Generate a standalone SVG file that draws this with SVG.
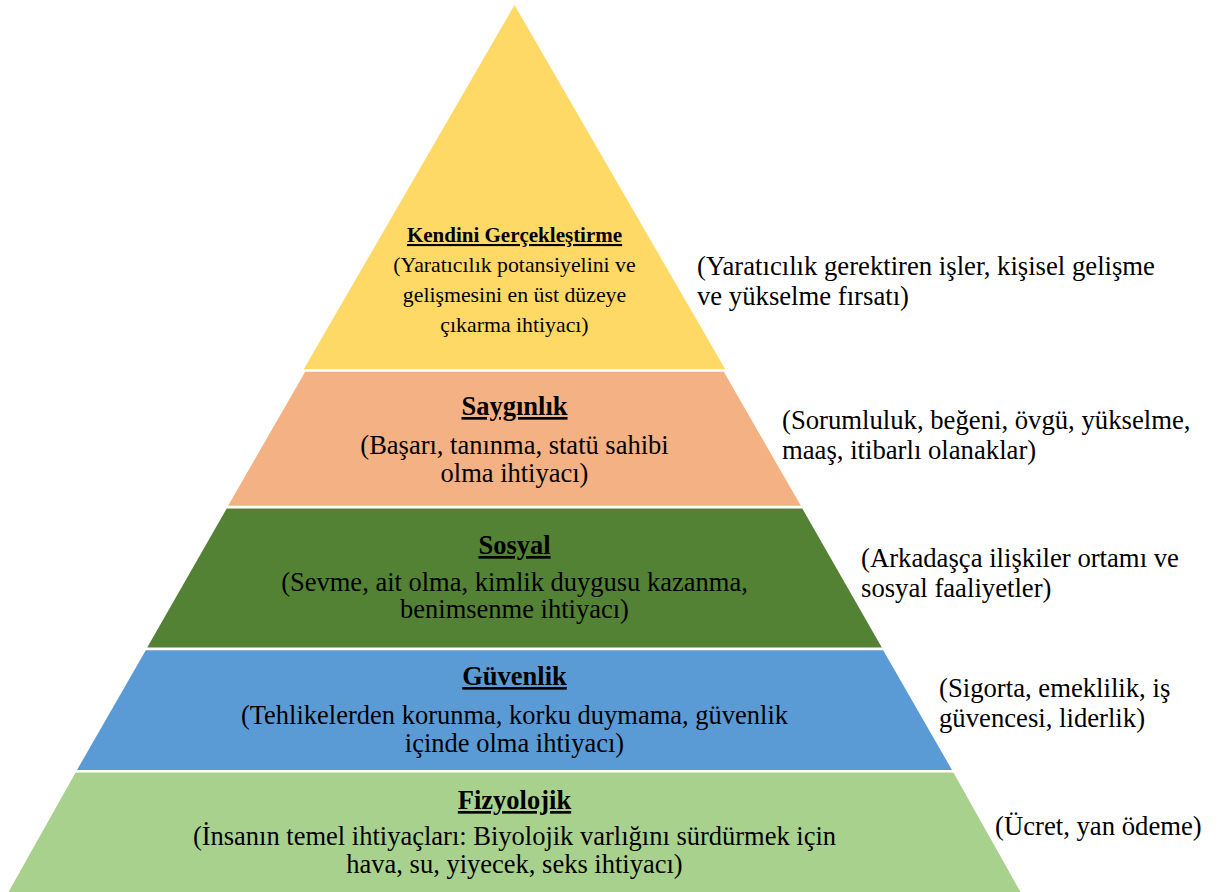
<svg xmlns="http://www.w3.org/2000/svg" width="1219" height="892" viewBox="0 0 1219 892">
<style>
.t{font-size:26.5px;text-anchor:middle}
.h{font-size:26.5px;font-weight:bold;text-decoration:underline;text-anchor:middle}
.h1{font-size:21px;font-weight:bold;text-decoration:underline;text-anchor:middle}
.t1{font-size:21.8px;text-anchor:middle}
.r{font-size:26.7px}
</style>
<rect width="1219" height="892" fill="#fff"/>
<g font-family="Liberation Serif" fill="#000">
<g id="level5">
<polygon points="514.5,5 725.3,369.3 303.7,369.3" fill="#FFD966"/>
<text class="h1" x="514.5" y="242">Kendini Gerçekleştirme</text>
<text class="t1" x="514.5" y="272">(Yaratıcılık potansiyelini ve</text>
<text class="t1" x="514.5" y="302">gelişmesini en üst düzeye</text>
<text class="t1" x="514.5" y="332">çıkarma ihtiyacı)</text>
</g>
<g id="level4">
<polygon points="305.2,371.8 723.8,371.8 800.9,505.8 228.1,505.8" fill="#F4B183"/>
<text class="h" x="514.5" y="415">Saygınlık</text>
<text class="t" x="514.5" y="454">(Başarı, tanınma, statü sahibi</text>
<text class="t" x="514.5" y="481.5">olma ihtiyacı)</text>
</g>
<g id="level3">
<polygon points="226.7,508.4 802.3,508.4 881.8,647.5 147.2,647.5" fill="#548235"/>
<text class="h" x="514.5" y="554">Sosyal</text>
<text class="t" x="514.5" y="590.5">(Sevme, ait olma, kimlik duygusu kazanma,</text>
<text class="t" x="514.5" y="618">benimsenme ihtiyacı)</text>
</g>
<g id="level2">
<polygon points="145.8,650.2 883.2,650.2 952,770 77,770" fill="#5B9BD5"/>
<text class="h" x="514.5" y="685">Güvenlik</text>
<text class="t" x="514.5" y="724">(Tehlikelerden korunma, korku duymama, güvenlik</text>
<text class="t" x="514.5" y="751.5">içinde olma ihtiyacı)</text>
</g>
<g id="level1">
<polygon points="75.6,772.6 953.4,772.6 1020.5,892 8.5,892" fill="#A9D18E"/>
<text class="h" x="514.5" y="809">Fizyolojik</text>
<text class="t" x="514.5" y="845">(İnsanın temel ihtiyaçları: Biyolojik varlığını sürdürmek için</text>
<text class="t" x="514.5" y="872.5">hava, su, yiyecek, seks ihtiyacı)</text>
</g>
<g id="notes">
<text class="r" x="697" y="274.5">(Yaratıcılık gerektiren işler, kişisel gelişme</text>
<text class="r" x="697" y="304.5">ve yükselme fırsatı)</text>
<text class="r" x="782" y="429">(Sorumluluk, beğeni, övgü, yükselme,</text>
<text class="r" x="782" y="459">maaş, itibarlı olanaklar)</text>
<text class="r" x="861" y="567">(Arkadaşça ilişkiler ortamı ve</text>
<text class="r" x="861" y="597">sosyal faaliyetler)</text>
<text class="r" x="939" y="697">(Sigorta, emeklilik, iş</text>
<text class="r" x="939" y="727">güvencesi, liderlik)</text>
<text class="r" x="995" y="835">(Ücret, yan ödeme)</text>
</g>
</g>
</svg>
